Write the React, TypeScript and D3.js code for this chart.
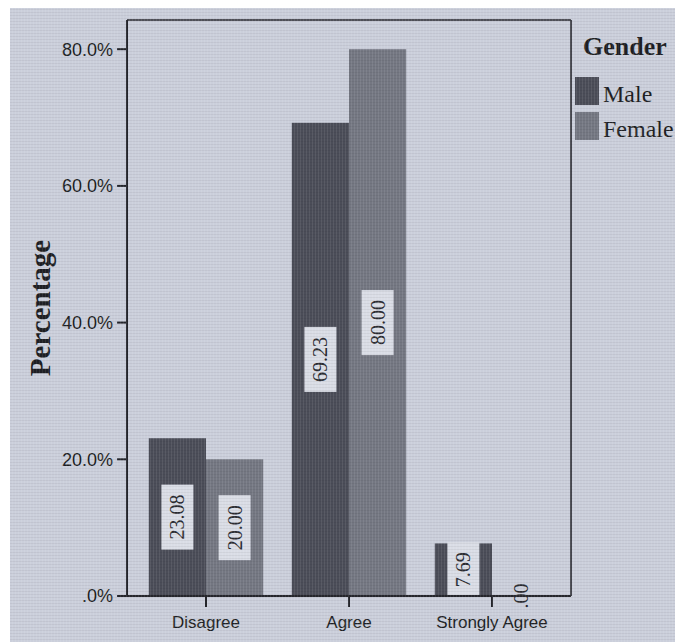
import React from "react";
import * as d3 from "d3";

const categories = ["Disagree", "Agree", "Strongly Agree"];
const seriesNames = ["Male", "Female"];
const maleValues = [23.08, 69.23, 7.69];
const femaleValues = [20.0, 80.0, 0.0];
const yTicks = [0, 20, 40, 60, 80];
const legendTitle = "Gender";
const yTitle = "Percentage";

const W = 675;
const H = 642;
const plot = { left: 127, right: 571, top: 20, bottom: 596 };
const BG = "#cbcfdb";
const BOX = "#dadde6";
const colors = ["#4b4d58", "#747782"];
const AX = "#24252b";

export default function App() {
  const x = d3
    .scaleBand<string>()
    .domain(categories)
    .range([plot.left, plot.right])
    .paddingInner(0.2)
    .paddingOuter(0.1525);
  const xs = d3
    .scaleBand<string>()
    .domain(seriesNames)
    .range([0, x.bandwidth()]);
  const y = d3.scaleLinear().domain([0, 84.27]).range([plot.bottom, plot.top]);

  const fmtTick = (d: number) => (d === 0 ? ".0%" : d.toFixed(1) + "%");
  const fmtVal = (d: number) => {
    const s = d.toFixed(2);
    return s.startsWith("0") ? s.slice(1) : s;
  };

  const series = [maleValues, femaleValues];
  const bars: { cat: string; s: string; v: number; i: number }[] = [];
  categories.forEach((c, ci) => {
    seriesNames.forEach((s, si) => {
      bars.push({ cat: c, s, v: series[si][ci], i: si });
    });
  });

  const labelFont = 20;
  const charW = (t: string) =>
    t.split("").reduce((a, ch) => a + (ch === "." ? 0.25 : 0.5), 0) * labelFont;

  return (
    <svg
      width={W}
      height={H}
      style={{ position: "absolute", left: 0, top: 0 }}
      xmlns="http://www.w3.org/2000/svg"
    >
      <defs>
        <pattern id="tex" width="3" height="3" patternUnits="userSpaceOnUse">
          <rect x="0" y="0" width="3" height="1" fill="#000" opacity="0.05" />
          <rect x="0" y="0" width="1" height="3" fill="#fff" opacity="0.08" />
        </pattern>
      </defs>
      <rect x={0} y={0} width={W} height={H} fill="#ffffff" />
      <rect x={10} y={8} width={W - 10} height={H - 8} fill={BG} />

      {/* bars */}
      {bars.map((b, k) => (
        <rect
          key={k}
          x={(x(b.cat) as number) + (xs(b.s) as number)}
          y={y(b.v)}
          width={xs.bandwidth()}
          height={plot.bottom - y(b.v)}
          fill={colors[b.i]}
        />
      ))}

      {/* label boxes */}
      {bars
        .filter((b) => b.v > 0)
        .map((b, k) => {
          const t = fmtVal(b.v);
          const cx = (x(b.cat) as number) + (xs(b.s) as number) + xs.bandwidth() / 2;
          const cy = (y(b.v) + plot.bottom) / 2;
          const bh = charW(t) + 20;
          const bw = 32;
          return (
            <rect
              key={"bx" + k}
              x={cx - bw / 2}
              y={cy - bh / 2}
              width={bw}
              height={bh}
              fill={BOX}
            />
          );
        })}

      {/* frame */}
      <line x1={plot.left} x2={plot.right} y1={plot.top} y2={plot.top} stroke={AX} strokeWidth={1.6} />
      <line x1={plot.right} x2={plot.right} y1={plot.top} y2={plot.bottom} stroke={AX} strokeWidth={1.6} />
      <line x1={plot.left} x2={plot.left} y1={plot.top} y2={plot.bottom + 1} stroke={AX} strokeWidth={2} />
      <line x1={plot.left - 1} x2={plot.right} y1={plot.bottom} y2={plot.bottom} stroke={AX} strokeWidth={2} />

      {/* y ticks */}
      {yTicks.map((t) => (
        <g key={"yt" + t}>
          <line x1={plot.left - 10} x2={plot.left} y1={y(t)} y2={y(t)} stroke={AX} strokeWidth={2} />
          <text
            x={plot.left - 14}
            y={y(t)}
            dy="0.36em"
            textAnchor="end"
            fontFamily="Liberation Sans, Arial, sans-serif"
            fontSize={18}
            fill="#1e1f24"
          >
            {fmtTick(t)}
          </text>
        </g>
      ))}

      {/* x ticks */}
      {categories.map((c) => {
        const cx = (x(c) as number) + x.bandwidth() / 2;
        return (
          <g key={"xt" + c}>
            <line x1={cx} x2={cx} y1={plot.bottom} y2={plot.bottom + 11} stroke={AX} strokeWidth={2} />
            <text
              x={cx}
              y={628}
              textAnchor="middle"
              fontFamily="Liberation Sans, Arial, sans-serif"
              fontSize={17}
              fill="#1e1f24"
            >
              {c}
            </text>
          </g>
        );
      })}

      {/* value labels */}
      {bars.map((b, k) => {
        const t = fmtVal(b.v);
        const cx = (x(b.cat) as number) + (xs(b.s) as number) + xs.bandwidth() / 2;
        const cy = (y(b.v) + plot.bottom) / 2;
        return (
          <text
            key={"lb" + k}
            transform={`translate(${cx},${cy}) rotate(-90)`}
            textAnchor="middle"
            dy="0.35em"
            fontFamily="Liberation Serif, Times New Roman, serif"
            fontSize={labelFont}
            fill="#2a2b31"
          >
            {t}
          </text>
        );
      })}

      {/* y title */}
      <text
        transform={`translate(50,308) rotate(-90)`}
        textAnchor="middle"
        fontFamily="Liberation Serif, Times New Roman, serif"
        fontWeight="bold"
        fontSize={29}
        fill="#1e1f24"
      >
        {yTitle}
      </text>

      {/* legend */}
      <text
        x={583}
        y={55}
        fontFamily="Liberation Serif, Times New Roman, serif"
        fontWeight="bold"
        fontSize={26}
        fill="#1e1f24"
      >
        {legendTitle}
      </text>
      {seriesNames.map((s, i) => (
        <g key={"lg" + s}>
          <rect x={575} y={77 + i * 35} width={24} height={28} fill={colors[i]} />
          <text
            x={603}
            y={101.5 + i * 35}
            fontFamily="Liberation Serif, Times New Roman, serif"
            fontSize={24}
            fill="#1e1f24"
          >
            {s}
          </text>
        </g>
      ))}

      <rect x={10} y={8} width={W - 10} height={H - 8} fill="url(#tex)" pointerEvents="none" />
    </svg>
  );
}
